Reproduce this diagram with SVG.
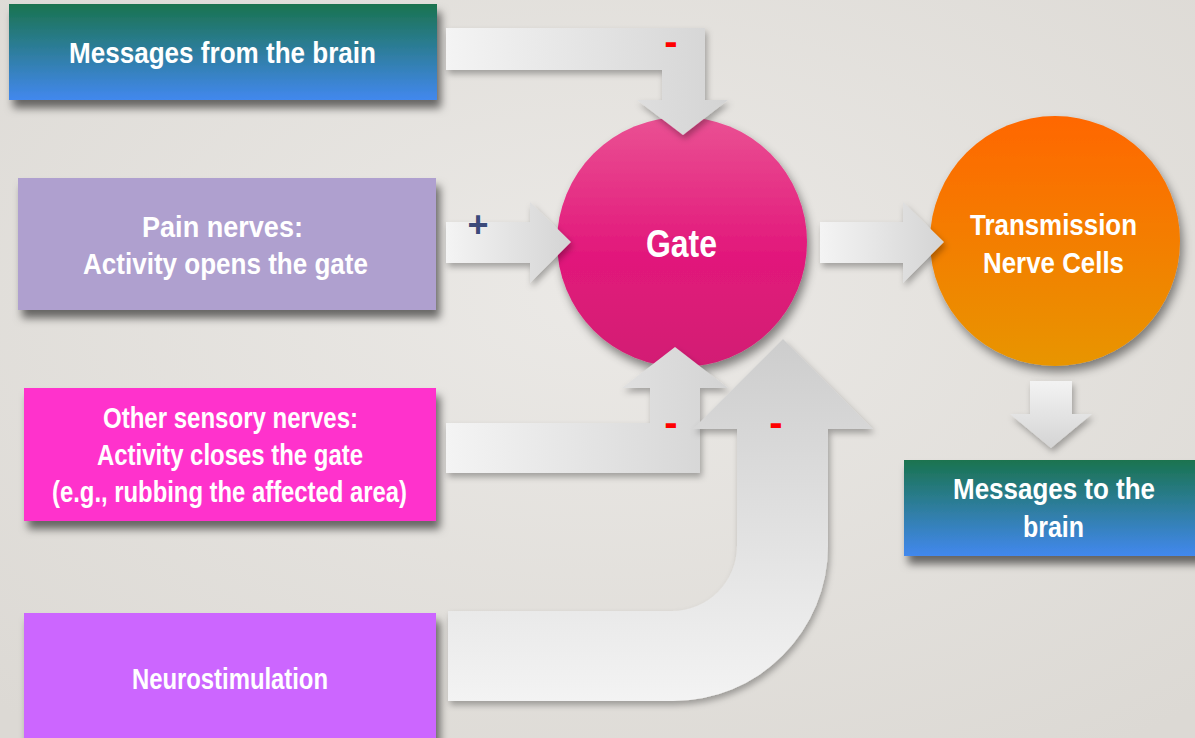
<svg xmlns="http://www.w3.org/2000/svg" width="1195" height="738" viewBox="0 0 1195 738">
  <defs>
    <radialGradient id="bg" cx="0.5" cy="0.4" r="0.75">
      <stop offset="0" stop-color="#ebe9e6"/>
      <stop offset="1" stop-color="#dcd9d4"/>
    </radialGradient>
    <linearGradient id="gBlue" x1="0" y1="0" x2="0" y2="1">
      <stop offset="0" stop-color="#1a734f"/>
      <stop offset="1" stop-color="#4288ee"/>
    </linearGradient>
    <linearGradient id="gGate" x1="0" y1="0" x2="0" y2="1">
      <stop offset="0" stop-color="#ea5193"/>
      <stop offset="0.55" stop-color="#e2187b"/>
      <stop offset="1" stop-color="#d21f73"/>
    </linearGradient>
    <linearGradient id="gTrans" x1="0" y1="0" x2="0" y2="1">
      <stop offset="0" stop-color="#ff6700"/>
      <stop offset="1" stop-color="#e89500"/>
    </linearGradient>
    <linearGradient id="gArrowH" x1="0" y1="0" x2="1" y2="0">
      <stop offset="0" stop-color="#f4f4f4"/>
      <stop offset="1" stop-color="#d4d4d4"/>
    </linearGradient>
    <linearGradient id="gArrowUp" x1="0" y1="0" x2="0" y2="1">
      <stop offset="0" stop-color="#cdcdcd"/>
      <stop offset="1" stop-color="#f3f3f3"/>
    </linearGradient>
    <linearGradient id="gArrowDown" x1="0" y1="0" x2="0" y2="1">
      <stop offset="0" stop-color="#f3f3f3"/>
      <stop offset="1" stop-color="#d4d4d4"/>
    </linearGradient>
    <filter id="boxShadow" x="-10%" y="-20%" width="125%" height="150%">
      <feDropShadow dx="4" dy="8" stdDeviation="4" flood-color="#000" flood-opacity="0.55"/>
    </filter>
    <filter id="circleShadow" x="-20%" y="-20%" width="145%" height="145%">
      <feDropShadow dx="3" dy="6" stdDeviation="5" flood-color="#000" flood-opacity="0.45"/>
    </filter>
    <filter id="arrowShadow" x="-20%" y="-20%" width="140%" height="150%">
      <feDropShadow dx="2" dy="4" stdDeviation="3" flood-color="#000" flood-opacity="0.3"/>
    </filter>
  </defs>
  <style>
    .t { font-family: "Liberation Sans", Arial, sans-serif; font-weight: bold; fill: #ffffff; font-size: 30px; }
    .gate { font-size: 38px; }
    .minus { font-family: "Liberation Sans", Arial, sans-serif; font-weight: bold; fill: #ff0000; font-size: 40px; text-anchor: middle; }
    .plus { font-family: "Liberation Sans", Arial, sans-serif; font-weight: bold; fill: #3b4a7a; font-size: 36px; text-anchor: middle; }
    .box { filter: url(#boxShadow); }
    .circ { filter: url(#circleShadow); }
    .arrow { filter: url(#arrowShadow); }
  </style>

  <rect x="0" y="0" width="1195" height="738" fill="url(#bg)"/>

  <g id="node-messages-from-brain">
    <rect class="box" x="9" y="4" width="428" height="96" fill="url(#gBlue)"/>
    <text class="t" x="69" y="63" textLength="307" lengthAdjust="spacingAndGlyphs">Messages from the brain</text>
  </g>

  <g id="node-pain-nerves">
    <rect class="box" x="18" y="178" width="418" height="132" fill="#afa0cf"/>
    <text class="t" x="142" y="237" textLength="161" lengthAdjust="spacingAndGlyphs">Pain nerves:</text>
    <text class="t" x="83" y="274" textLength="285" lengthAdjust="spacingAndGlyphs">Activity opens the gate</text>
  </g>

  <g id="node-other-sensory">
    <rect class="box" x="24" y="388" width="412" height="133" fill="#ff33cc"/>
    <text class="t" x="103" y="428" textLength="255" lengthAdjust="spacingAndGlyphs">Other sensory nerves:</text>
    <text class="t" x="97" y="465" textLength="266" lengthAdjust="spacingAndGlyphs">Activity closes the gate</text>
    <text class="t" x="52" y="502" textLength="355" lengthAdjust="spacingAndGlyphs">(e.g., rubbing the affected area)</text>
  </g>

  <g id="node-neurostimulation">
    <rect class="box" x="24" y="613" width="412" height="140" fill="#cc66ff"/>
    <text class="t" x="132" y="689" textLength="196" lengthAdjust="spacingAndGlyphs">Neurostimulation</text>
  </g>

  <g id="node-gate">
    <circle class="circ" cx="682" cy="242" r="125" fill="url(#gGate)"/>
    <text class="t gate" x="646" y="257" textLength="71" lengthAdjust="spacingAndGlyphs">Gate</text>
  </g>

  <g id="node-transmission">
    <circle class="circ" cx="1055" cy="241" r="125" fill="url(#gTrans)"/>
    <text class="t" x="970" y="235" textLength="167" lengthAdjust="spacingAndGlyphs">Transmission</text>
    <text class="t" x="983" y="273" textLength="141" lengthAdjust="spacingAndGlyphs">Nerve Cells</text>
  </g>

  <g id="node-messages-to-brain">
    <rect class="box" x="904" y="460" width="300" height="96" fill="url(#gBlue)"/>
    <text class="t" x="953" y="499" textLength="202" lengthAdjust="spacingAndGlyphs">Messages to the</text>
    <text class="t" x="1023" y="537" textLength="61" lengthAdjust="spacingAndGlyphs">brain</text>
  </g>

  <g id="connectors">
    <path class="arrow" fill="url(#gArrowH)" d="M446 28 L705 28 L705 100 L728 100 L683 135 L637 100 L662 100 L662 70 L446 70 Z"/>
    <text class="minus" x="671" y="55">-</text>

    <path class="arrow" fill="url(#gArrowH)" d="M446 222 L530 222 L530 202 L571 242 L530 283 L530 263 L446 263 Z"/>
    <text class="plus" x="478" y="237">+</text>

    <path class="arrow" fill="url(#gArrowH)" d="M820 222 L903 222 L903 202 L944 242 L903 283 L903 263 L820 263 Z"/>

    <path class="arrow" fill="url(#gArrowH)" d="M446 423 L650 423 L650 388 L622 388 L675 347 L728 388 L700 388 L700 473 L446 473 Z"/>
    <text class="minus" x="671" y="436">-</text>

    <path class="arrow" fill="url(#gArrowUp)" d="M448 611 L672 611 A65 65 0 0 0 737 546 L737 429 L693 429 L783 339 L873 429 L828 429 L828 546 A155 155 0 0 1 673 701 L448 701 Z"/>
    <text class="minus" x="776" y="436">-</text>

    <path class="arrow" fill="url(#gArrowDown)" d="M1030 381 L1072 381 L1072 414 L1092 414 L1051 448 L1010 414 L1030 414 Z"/>
  </g>
</svg>
